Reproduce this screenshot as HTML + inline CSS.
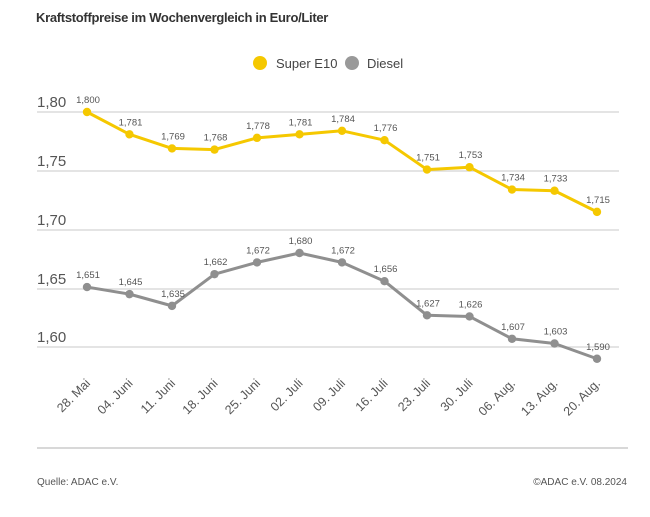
<!DOCTYPE html>
<html><head><meta charset="utf-8"><style>
body{margin:0;background:#fff;}
svg{display:block;font-family:"Liberation Sans",sans-serif;}
</style></head><body>
<svg width="650" height="517" viewBox="0 0 650 517">
<text x="36" y="22" font-size="13" font-weight="bold" fill="#333" letter-spacing="-0.3">Kraftstoffpreise im Wochenvergleich in Euro/Liter</text>
<circle cx="260" cy="63" r="7" fill="#f5c800"/>
<text x="276" y="68" font-size="13" fill="#444">Super E10</text>
<circle cx="352" cy="63" r="7" fill="#999"/>
<text x="367" y="68" font-size="13" fill="#444">Diesel</text>
<g stroke="#d4d4d4" stroke-width="1.3">
<line x1="37" y1="112" x2="619" y2="112"/>
<line x1="37" y1="171" x2="619" y2="171"/>
<line x1="37" y1="230" x2="619" y2="230"/>
<line x1="37" y1="289" x2="619" y2="289"/>
<line x1="37" y1="347" x2="619" y2="347"/>
</g>
<line x1="37" y1="448" x2="628" y2="448" stroke="#ccc" stroke-width="1.5"/>
<g font-size="15" fill="#555">
<text x="37" y="107">1,80</text>
<text x="37" y="166">1,75</text>
<text x="37" y="225">1,70</text>
<text x="37" y="284">1,65</text>
<text x="37" y="342">1,60</text>
</g>
<g id="s"></g>
<g font-size="12.5" fill="#555" id="xl"></g>
<text x="37" y="485" font-size="10" fill="#555">Quelle: ADAC e.V.</text>
<text x="627" y="485" font-size="10" fill="#555" text-anchor="end">©ADAC e.V. 08.2024</text>
</svg>
<script>
var e10=[1.800,1.781,1.769,1.768,1.778,1.781,1.784,1.776,1.751,1.753,1.734,1.733,1.715];
var d=[1.651,1.645,1.635,1.662,1.672,1.680,1.672,1.656,1.627,1.626,1.607,1.603,1.590];
var lab=["28. Mai","04. Juni","11. Juni","18. Juni","25. Juni","02. Juli","09. Juli","16. Juli","23. Juli","30. Juli","06. Aug.","13. Aug.","20. Aug."];
function X(i){return 87+i*42.5}function Y(v){return 112+(1.8-v)*1175}
var h="";
[[e10,"#f5c800"],[d,"#8f8f8f"]].forEach(function(s){
 var p=s[0].map(function(v,i){return X(i)+","+Y(v)}).join(" ");
 h+='<polyline points="'+p+'" fill="none" stroke="'+s[1]+'" stroke-width="3" stroke-linejoin="round"/>';
 s[0].forEach(function(v,i){h+='<circle cx="'+X(i)+'" cy="'+Y(v)+'" r="4.2" fill="'+s[1]+'"/>';
 h+='<text x="'+(X(i)+1)+'" y="'+(Y(v)-9)+'" font-size="9.5" fill="#555" text-anchor="middle">'+v.toFixed(3).replace(".",",")+'</text>';});
});
document.getElementById("s").innerHTML=h;
var t="";
lab.forEach(function(l,i){var x=X(i)+4,y=384;t+='<text x="'+x+'" y="'+y+'" text-anchor="end" transform="rotate(-45 '+x+' '+y+')">'+l+'</text>';});
document.getElementById("xl").innerHTML=t;
</script>
</body></html>
